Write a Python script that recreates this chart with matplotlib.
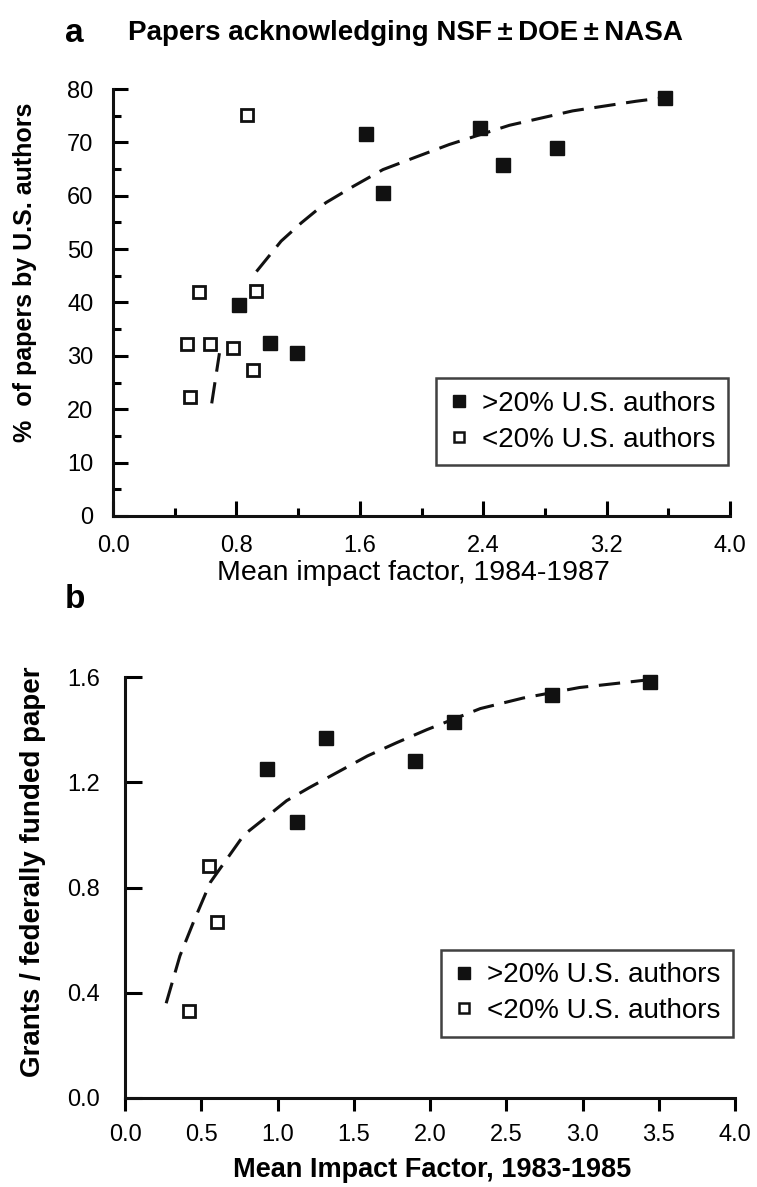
import matplotlib
matplotlib.use("Agg")
import matplotlib.pyplot as plt
from matplotlib.lines import Line2D

plt.rcParams['font.family'] = ['Liberation Sans', 'DejaVu Sans']

# ----------- DATA -----------

# panel a : papers acknowledging NSF/DOE/NASA
a_hi_x = [0.82, 1.02, 1.19, 1.64, 1.75, 2.38, 2.53, 2.88, 3.58]
a_hi_y = [39.5, 32.4, 30.5, 71.6, 60.5, 72.7, 65.8, 68.9, 78.3]
a_lo_x = [0.87, 0.56, 0.93, 0.48, 0.63, 0.78, 0.91, 0.50]
a_lo_y = [75.1, 42.0, 42.2, 32.2, 32.2, 31.5, 27.4, 22.3]
a_fit_x = [0.64, 0.69, None, 0.93, 1.09, 1.22, 1.38, 1.56, 1.75, 1.95, 2.18, 2.57, 2.98, 3.39, 3.58]
a_fit_y = [21.1, 30.5, None, 45.8, 51.5, 54.9, 58.7, 61.8, 64.9, 67.1, 69.6, 73.2, 75.9, 77.7, 78.4]

# panel b : grants per federally funded paper
b_hi_x = [0.93, 1.13, 1.32, 1.90, 2.16, 2.80, 3.44]
b_hi_y = [1.25, 1.05, 1.37, 1.28, 1.43, 1.53, 1.58]
b_lo_x = [0.55, 0.60, 0.42]
b_lo_y = [0.88, 0.67, 0.33]
b_fit_x = [0.27, 0.36, 0.45, 0.56, 0.67, 0.78, 0.91, 1.06, 1.21, 1.40, 1.59, 1.78, 1.98, 2.33, 2.61, 2.98, 3.29, 3.44]
b_fit_y = [0.36, 0.54, 0.67, 0.82, 0.91, 1.00, 1.06, 1.13, 1.18, 1.24, 1.30, 1.35, 1.40, 1.48, 1.52, 1.56, 1.58, 1.59]

a_xticks = [0.0, 0.8, 1.6, 2.4, 3.2, 4.0]
a_yticks = [0, 10, 20, 30, 40, 50, 60, 70, 80]
b_xticks = [0.0, 0.5, 1.0, 1.5, 2.0, 2.5, 3.0, 3.5, 4.0]
b_yticks = [0.0, 0.4, 0.8, 1.2, 1.6]

labels = [">20% U.S. authors", "<20% U.S. authors"]

W, H = 757, 1187
FS = 17


def px_x(x):
    return x / W


def px_y(y):
    return 1 - y / H


def none_to_nan(v):
    return [float('nan') if e is None else e for e in v]


def style_axes(ax):
    for s in ("top", "right"):
        ax.spines[s].set_visible(False)
    for s in ("left", "bottom"):
        ax.spines[s].set_linewidth(2.2)
        ax.spines[s].set_color("#111111")


def draw_points(ax, hx, hy, lx, ly, fx, fy, ms_hi, ms_lo):
    ax.plot(none_to_nan(fx), none_to_nan(fy), color="#111111", lw=2.2,
            dashes=(7, 3.5), clip_on=False, zorder=2)
    ax.plot(hx, hy, ls="none", marker="s", ms=ms_hi, mfc="#111111", mec="#111111",
            clip_on=False, zorder=3)
    ax.plot(lx, ly, ls="none", marker="s", ms=ms_lo, mfc="white", mec="#111111",
            mew=2.0, clip_on=False, zorder=3)


def add_legend(ax, anchor):
    handles = [
        Line2D([], [], ls="none", marker="s", ms=8, mfc="#111111", mec="#111111"),
        Line2D([], [], ls="none", marker="s", ms=7, mfc="white", mec="#111111", mew=1.8),
    ]
    leg = ax.legend(handles, labels, loc="lower right", bbox_to_anchor=anchor,
                    borderaxespad=0, fancybox=False, fontsize=20, handlelength=0.7,
                    handletextpad=0.5, labelspacing=0.35, borderpad=0.45)
    leg.get_frame().set_edgecolor("#111111")
    leg.get_frame().set_linewidth(1.8)


# ----------- FIGURE -----------

fig = plt.figure(figsize=(W / 100, H / 100), dpi=100)

# panel a
ax1 = fig.add_axes([px_x(113), px_y(516), px_x(730 - 113), (516 - 89) / H])
style_axes(ax1)
draw_points(ax1, a_hi_x, a_hi_y, a_lo_x, a_lo_y, a_fit_x, a_fit_y, 10.5, 9)
ax1.set_xlim(0, 4.0)
ax1.set_ylim(0, 80)
ax1.set_xticks(a_xticks)
ax1.set_xticklabels([f"{t:.1f}" for t in a_xticks])
ax1.set_xticks([0.4, 1.2, 2.0, 2.8, 3.6], minor=True)
ax1.set_yticks(a_yticks)
ax1.set_yticks([5, 15, 25, 35, 45, 55, 65, 75], minor=True)
ax1.tick_params(which="major", direction="in", length=11, width=2.2, labelsize=FS, pad=14)
ax1.tick_params(which="minor", direction="in", length=6, width=2.2)
add_legend(ax1, (0.997, 0.119))

fig.text(px_x(65), px_y(33), "a", fontsize=24, fontweight="heavy", va="center", ha="left")
fig.text(px_x(128), px_y(33), "Papers acknowledging NSF\u2009\u00b1\u2009DOE\u2009\u00b1\u2009NASA",
         fontsize=20, fontweight="semibold", va="center", ha="left")
fig.text(px_x(413), px_y(573), "Mean impact factor, 1984-1987", fontsize=20.5,
         fontweight="medium", ha="center", va="center")
fig.text(px_x(25), px_y(272), "%  of papers by U.S. authors", fontsize=18,
         fontweight="bold", rotation=90, ha="center", va="center")

# panel b
ax2 = fig.add_axes([px_x(125), px_y(1098), px_x(735 - 125), (1098 - 677) / H])
style_axes(ax2)
draw_points(ax2, b_hi_x, b_hi_y, b_lo_x, b_lo_y, b_fit_x, b_fit_y, 10.5, 8)
ax2.set_xlim(0, 4.0)
ax2.set_ylim(0, 1.6)
ax2.set_xticks(b_xticks)
ax2.set_xticklabels([f"{t:.1f}" for t in b_xticks])
ax2.set_yticks(b_yticks)
ax2.set_yticklabels([f"{t:.1f}" for t in b_yticks])
ax2.tick_params(axis="x", direction="out", length=9, width=2.2, labelsize=FS, pad=10)
ax2.tick_params(axis="y", direction="in", length=12, width=2.2, labelsize=FS, pad=18)
add_legend(ax2, (0.997, 0.146))

fig.text(px_x(65), px_y(600), "b", fontsize=24, fontweight="heavy", va="center", ha="left")
fig.text(px_x(432), px_y(1170), "Mean Impact Factor, 1983-1985", fontsize=19.5,
         fontweight="bold", ha="center", va="center")
fig.text(px_x(33), px_y(872), "Grants / federally funded paper", fontsize=20,
         fontweight="bold", rotation=90, ha="center", va="center")

fig.savefig("out.png", dpi=100)
